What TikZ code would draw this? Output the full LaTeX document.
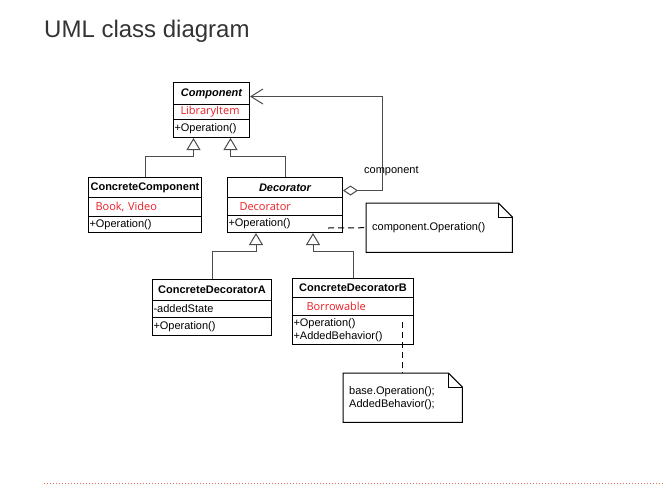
\documentclass[tikz,border=0pt]{standalone}
\usepackage{fontspec}
\setmainfont{Liberation Sans}
\newfontfamily\attrfont{Open Sans}
\usetikzlibrary{arrows.meta}
\definecolor{attrred}{RGB}{236,28,36}
\definecolor{titlegray}{RGB}{51,51,51}
\definecolor{rulecol}{RGB}{226,110,80}
\tikzset{
  >=latex,
  x=1pt, y=-1pt,
}
\tikzstyle{every node}=[font=\fontsize{11}{13}\selectfont,inner sep=0pt]
\tikzstyle{head}=[draw,line width=1pt,anchor=north west,font=\fontsize{11}{13}\selectfont\bfseries]
\tikzstyle{attr}=[draw,line width=1pt,anchor=north west,align=left,text=attrred,font=\fontsize{11}{13}\attrfont]
\tikzstyle{ops}=[draw,line width=1pt,anchor=north west,align=left,inner xsep=1pt]
\tikzstyle{note}=[anchor=north west,align=left,inner xsep=6pt]
\tikzstyle{notebox}=[line width=1pt]
\tikzstyle{inh}=[line width=1pt,black!70,-{Triangle[open,fill=white,length=12pt,width=14pt]}]
\tikzstyle{agg}=[line width=1pt,black!70,{Diamond[open,fill=white,length=15pt,width=10pt]}-{Straight Barb[length=12pt,width=15pt]}]
\tikzstyle{link}=[line width=1pt,dash pattern=on 6pt off 4pt]
\begin{document}
\begin{tikzpicture}
    \useasboundingbox (0,0) rectangle (663,485);
    \node[anchor=base west,text=titlegray,font=\fontsize{24}{28}\selectfont] (ttl) at (44,37) {UML class diagram};
    % Component
    \node[head,minimum width=76,minimum height=22,font=\fontsize{11}{13}\selectfont\bfseries\itshape] (cmph) at (173,82) {Component};
    \node[attr,text width=62,inner xsep=7pt,minimum height=15] (cmpa) at (173,104) {LibraryItem};
    \node[ops,text width=74,minimum height=18] (cmpo) at (173,119) {+Operation()};
    % ConcreteComponent
    \node[head,minimum width=113,minimum height=20] (cch) at (88,177) {ConcreteComponent};
    \node[attr,text width=99,inner xsep=7pt,minimum height=19] (cca) at (88,197) {Book, Video};
    \node[ops,text width=111,minimum height=16] (cco) at (88,216) {+Operation()};
    % Decorator
    \node[head,minimum width=115,minimum height=20,font=\fontsize{11}{13}\selectfont\bfseries\itshape] (dech) at (227,177) {Decorator};
    \node[attr,text width=91,inner xsep=12pt,minimum height=18] (deca) at (227,197) {Decorator};
    \node[ops,text width=113,minimum height=17] (deco) at (227,215) {+Operation()};
    % ConcreteDecoratorA
    \node[head,minimum width=119,minimum height=21] (cdah) at (152,279) {ConcreteDecoratorA};
    \node[ops,text width=117,minimum height=17] (cdaa) at (152,300) {-addedState};
    \node[ops,text width=117,minimum height=18] (cdao) at (152,317) {+Operation()};
    % ConcreteDecoratorB
    \node[head,minimum width=121,minimum height=19] (cdbh) at (292,278) {ConcreteDecoratorB};
    \node[attr,text width=93,inner xsep=14pt,minimum height=18] (cdba) at (292,297) {Borrowable};
    \node[ops,text width=119,minimum height=29] (cdbo) at (292,315) {+Operation()\\+AddedBehavior()};
    % notes
    \node[note,text width=134,minimum height=49] (n1) at (366,203) {component.Operation()};
    \node[note,text width=107,minimum height=49] (n2) at (343,373) {base.Operation();\\AddedBehavior();};
    \draw[notebox] (n1.north west) -- ([xshift=-14pt]n1.north east) -- ([yshift=-14pt]n1.north east) -- (n1.south east) -- (n1.south west) -- cycle;
    \draw[notebox] ([xshift=-14pt]n1.north east) |- ([yshift=-14pt]n1.north east);
    \draw[notebox] (n2.north west) -- ([xshift=-14pt]n2.north east) -- ([yshift=-14pt]n2.north east) -- (n2.south east) -- (n2.south west) -- cycle;
    \draw[notebox] ([xshift=-14pt]n2.north east) |- ([yshift=-14pt]n2.north east);
    % connectors
    \draw[inh] (cch.north) -- ++(0,-21) -| ([xshift=-18pt]cmpo.south);
    \draw[inh] (dech.north) -- ++(0,-21) -| ([xshift=19pt]cmpo.south);
    \draw[inh] (cdah.north) -- ++(0,-28) -| ([xshift=-29pt]deco.south);
    \draw[inh] (cdbh.north) -- ++(0,-27) -| ([xshift=28pt]deco.south);
    \draw[agg] ([yshift=-3pt]dech.east) -- ++(39,0) |- ([yshift=-3pt]cmph.east);
    \node[anchor=west] (agglbl) at (364,171) {component};
    \coordinate (decn) at (328,228);
    \coordinate (cdbn) at (402,322);
    \draw[link] (decn) -- (n1.west);
    \draw[link] (cdbn) -- (cdbn |- n2.north);
    \draw[rulecol,line width=1pt,dash pattern=on 1pt off 2pt] (44,483) -- (663,483);
\end{tikzpicture}
\end{document}
